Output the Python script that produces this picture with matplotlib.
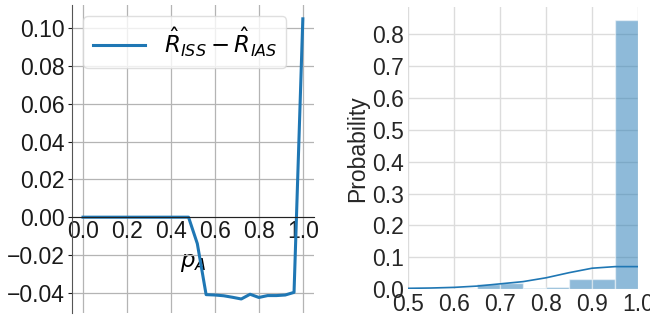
import matplotlib
matplotlib.use("Agg")
import matplotlib.pyplot as plt

# left panel: difference of the two estimators over p_A
p_a = [0.00, 0.04, 0.08, 0.12, 0.16, 0.20, 0.24, 0.28, 0.32, 0.36, 0.40, 0.44, 0.48,
       0.52, 0.56, 0.60, 0.64, 0.68, 0.72, 0.76, 0.80, 0.84, 0.88, 0.92, 0.96, 1.00]
r_diff = [0.0] * 13 + [-0.0140, -0.0410, -0.0412, -0.0416, -0.0424, -0.0433, -0.0408,
                       -0.0425, -0.0415, -0.0415, -0.0412, -0.0398, 0.1050]
legend_label = r"$\hat{R}_{ISS} - \hat{R}_{IAS}$"
left_xticks = [0.0, 0.2, 0.4, 0.6, 0.8, 1.0]
left_yticks = [-0.04, -0.02, 0.00, 0.02, 0.04, 0.06, 0.08, 0.10]

# right panel: histogram (probability) with kde
bin_lefts = [0.50, 0.55, 0.60, 0.65, 0.70, 0.75, 0.80, 0.85, 0.90, 0.95]
bin_probs = [0.002, 0.001, 0.000, 0.017, 0.021, 0.005, 0.008, 0.031, 0.033, 0.842]
kde_x = [0.50, 0.55, 0.60, 0.65, 0.70, 0.75, 0.80, 0.85, 0.90, 0.95, 1.00]
kde_y = [0.003, 0.004, 0.006, 0.010, 0.017, 0.024, 0.036, 0.052, 0.066, 0.071, 0.071]
right_xticks = [0.5, 0.6, 0.7, 0.8, 0.9, 1.0]
right_yticks = [0.0, 0.1, 0.2, 0.3, 0.4, 0.5, 0.6, 0.7, 0.8]

plt.rcParams["font.family"] = ["Liberation Sans", "DejaVu Sans"]
plt.rcParams["font.size"] = 16.5
plt.rcParams["mathtext.fontset"] = "dejavusans"

blue = "#1f77b4"
fig = plt.figure(figsize=(6.5, 3.22), dpi=100)

# ---- left
ax1 = fig.add_axes([0.1108, 0.028, 0.372, 0.957])
ax1.plot(p_a, r_diff, color=blue, lw=2.2, label=legend_label)
ax1.set_xticks(left_xticks)
ax1.set_yticks(left_yticks)
ax1.set_yticklabels(["\u22120.04", "\u22120.02", "0.00", "0.02", "0.04", "0.06", "0.08", "0.10"])
ax1.grid(True, color="#b4b4b4", lw=0.9)
ax1.set_axisbelow(True)
ax1.spines["top"].set_visible(False)
ax1.spines["right"].set_visible(False)
ax1.spines["bottom"].set_position(("data", 0))
ax1.spines["bottom"].set_color("#222222")
ax1.spines["left"].set_color("#555555")
ax1.tick_params(axis="x", length=0, pad=2, colors="#1a1a1a")
ax1.tick_params(axis="y", length=3, width=0.8, colors="#1a1a1a", pad=2)
ax1.set_xlabel("$p_A$", labelpad=6)
leg = ax1.legend(loc="upper left", handlelength=2.3, fontsize=16.5, fancybox=True)
leg.get_frame().set_edgecolor("#d8d8d8")

# ---- right
ax2 = fig.add_axes([0.6277, 0.1016, 0.354, 0.876])
ax2.bar(bin_lefts, bin_probs, width=0.05, align="edge", color=blue, alpha=0.5,
        edgecolor="white", lw=1)
ax2.plot(kde_x, kde_y, color=blue, lw=1.2)
ax2.set_xlim(0.5, 1.0)
ax2.set_ylim(0, 0.8836)
ax2.set_xticks(right_xticks)
ax2.set_yticks(right_yticks)
ax2.grid(True, color="#dcdcdc", lw=1)
ax2.set_axisbelow(True)
for s in ax2.spines.values():
    s.set_visible(False)
ax2.tick_params(length=0, colors="#262626", pad=3)
ax2.set_ylabel("Probability", color="#262626", labelpad=2)

fig.savefig("out.png", dpi=100)
